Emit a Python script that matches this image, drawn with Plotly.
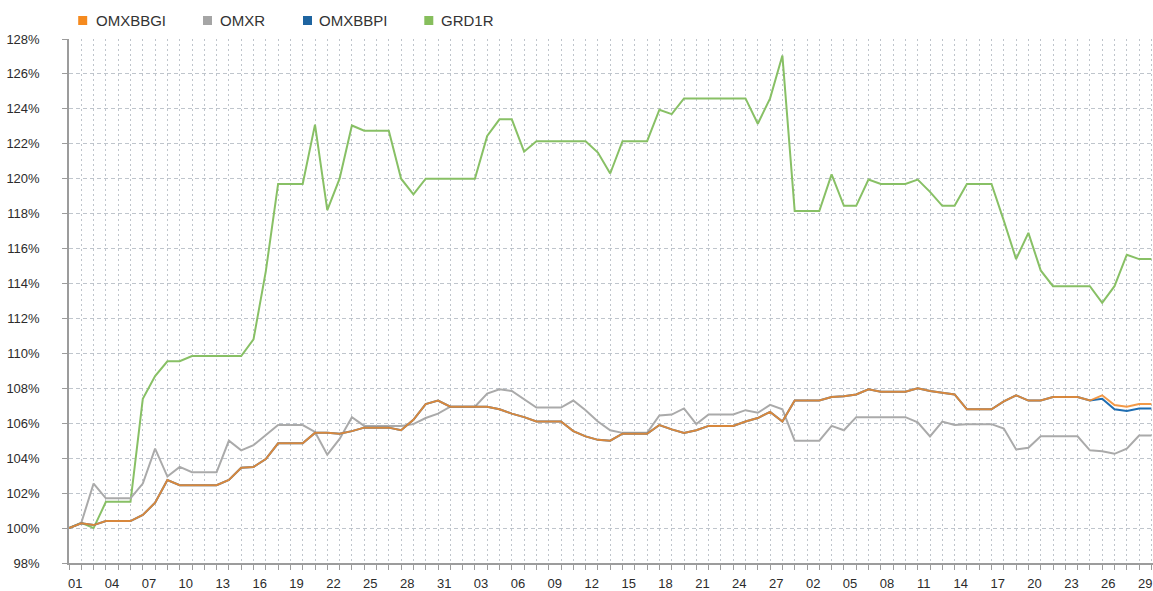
import plotly.graph_objects as go

# ---- categories: calendar days (Jan 1 .. Mar 30) ----
day_labels = ([f"{d:02d}" for d in range(1, 32)] +
              [f"{d:02d}" for d in range(1, 29)] +
              [f"{d:02d}" for d in range(1, 31)])

# ---- series values (% of start) ----
omxbbgi = [100.0, 100.27, 100.17, 100.4, 100.4, 100.4, 100.75, 101.45, 102.75, 102.45,
           102.45, 102.45, 102.45, 102.75, 103.45, 103.5, 103.95, 104.85, 104.85, 104.85,
           105.45, 105.45, 105.4, 105.55, 105.75, 105.75, 105.75, 105.6, 106.2, 107.1,
           107.3, 106.95, 106.95, 106.95, 106.95, 106.8, 106.55, 106.35, 106.1, 106.1,
           106.1, 105.55, 105.25, 105.05, 105.0, 105.4, 105.4, 105.4, 105.9, 105.65,
           105.45, 105.6, 105.85, 105.85, 105.85, 106.1, 106.3, 106.65, 106.1, 107.3,
           107.3, 107.3, 107.5, 107.55, 107.65, 107.95, 107.8, 107.8, 107.8, 108.0,
           107.85, 107.75, 107.65, 106.8, 106.8, 106.8, 107.25, 107.6, 107.3, 107.3,
           107.5, 107.5, 107.5, 107.3, 107.6, 107.05, 106.95, 107.1, 107.1]

omxr = [100.0, 100.3, 102.55, 101.7, 101.7, 101.7, 102.55, 104.55, 102.95, 103.5,
        103.2, 103.2, 103.2, 105.0, 104.45, 104.75, 105.3, 105.9, 105.9, 105.9,
        105.5, 104.2, 105.1, 106.35, 105.85, 105.85, 105.85, 105.85, 105.95, 106.3,
        106.55, 106.95, 106.95, 106.95, 107.7, 107.95, 107.85, 107.35, 106.9, 106.9,
        106.9, 107.3, 106.75, 106.1, 105.6, 105.45, 105.45, 105.45, 106.45, 106.5,
        106.85, 105.95, 106.5, 106.5, 106.5, 106.75, 106.6, 107.05, 106.8, 105.0,
        105.0, 105.0, 105.85, 105.6, 106.35, 106.35, 106.35, 106.35, 106.35, 106.05,
        105.25, 106.1, 105.9, 105.95, 105.95, 105.95, 105.7, 104.5, 104.6, 105.25,
        105.25, 105.25, 105.25, 104.45, 104.4, 104.25, 104.55, 105.3, 105.3]

omxbbpi = omxbbgi[:84] + [107.4, 106.8, 106.7, 106.85, 106.85]

grd1r = [100.0, 100.3, 100.0, 101.5, 101.5, 101.5, 107.4, 108.7, 109.55, 109.55,
         109.85, 109.85, 109.85, 109.85, 109.85, 110.8, 114.7, 119.7, 119.7, 119.7,
         123.1, 118.2, 120.0, 123.05, 122.75, 122.75, 122.75, 120.0, 119.1, 120.0,
         120.0, 120.0, 120.0, 120.0, 122.45, 123.4, 123.4, 121.55, 122.15, 122.15,
         122.15, 122.15, 122.15, 121.5, 120.3, 122.15, 122.15, 122.15, 123.95, 123.7,
         124.6, 124.6, 124.6, 124.6, 124.6, 124.6, 123.15, 124.6, 127.05, 118.15,
         118.15, 118.15, 120.25, 118.45, 118.45, 119.95, 119.7, 119.7, 119.7, 119.95,
         119.25, 118.45, 118.45, 119.7, 119.7, 119.7, 117.6, 115.4, 116.9, 114.75,
         113.85, 113.85, 113.85, 113.85, 112.9, 113.85, 115.65, 115.4, 115.4]

series_names = ["OMXBBGI", "OMXR", "OMXBBPI", "GRD1R"]
line_colors = {"OMXBBGI": "#F28C2E", "OMXR": "#AAAAAA", "OMXBBPI": "#1F6DB1", "GRD1R": "#88C065"}
legend_colors = {"OMXBBGI": "#F58A1F", "OMXR": "#A5A5A5", "OMXBBPI": "#1E64A0", "GRD1R": "#86BE5C"}

x_idx = list(range(len(day_labels)))
label_step = 3
tick_pos = [i + 0.5 for i in range(0, len(day_labels), label_step)]
tick_txt = [day_labels[i] for i in range(0, len(day_labels), label_step)]

fig = go.Figure()
data_map = {"OMXBBGI": omxbbgi, "OMXR": omxr, "OMXBBPI": omxbbpi, "GRD1R": grd1r}
for name in ["GRD1R", "OMXR", "OMXBBPI", "OMXBBGI"]:
    fig.add_trace(go.Scatter(
        x=x_idx, y=data_map[name], mode="lines", name=name,
        line=dict(color=line_colors[name], width=2),
        opacity=0.88 if name == "OMXBBGI" else 1.0,
        showlegend=False))

W, H = 1153, 591
ml, mr, mt, mb = 69, 0, 39, 28
pw, ph = W - ml - mr, H - mt - mb
px_per_cat = 12.3
x_end = pw / px_per_cat


def paper_x(px):
    return (px - ml) / pw


def paper_y(py):
    return (H - mb - py) / ph


# legend drawn as coloured squares + labels
legend_sq_x = [82.7, 207.5, 307.5, 428.8]
legend_tx_x = [94.3, 218.0, 317.0, 438.5]
legend_y = 20.5
shapes = []
annotations = []
for name, sx, tx in zip(series_names, legend_sq_x, legend_tx_x):
    shapes.append(dict(type="rect", xref="paper", yref="paper",
                       x0=paper_x(sx - 4.5), x1=paper_x(sx + 4.5),
                       y0=paper_y(legend_y + 4.5), y1=paper_y(legend_y - 4.5),
                       fillcolor=legend_colors[name], line=dict(width=0)))
    annotations.append(dict(xref="paper", yref="paper", x=paper_x(tx), y=paper_y(legend_y),
                            text=name, showarrow=False, xanchor="left", yanchor="middle",
                            font=dict(size=15, color="#333333", family="Liberation Sans, Arial")))

axis_col = "#9C9C9C"
grid_col = "#BFC5CC"
fig.update_layout(
    width=W, height=H,
    margin=dict(l=ml, r=mr, t=mt, b=mb, autoexpand=False),
    paper_bgcolor="white", plot_bgcolor="white",
    showlegend=False,
    shapes=shapes, annotations=annotations,
    font=dict(family="Liberation Sans, Arial", color="#333333"),
    xaxis=dict(range=[0, x_end], tickmode="array", tickvals=tick_pos, ticktext=tick_txt,
               ticks="", showgrid=False, zeroline=False,
               showline=True, linecolor=axis_col, linewidth=1.5,
               tickfont=dict(size=13, color="#2b2b2b"),
               ticklabelstandoff=8, automargin=False,
               minor=dict(tickmode="array", tickvals=x_idx, ticks="outside", ticklen=5,
                          tickcolor=axis_col, tickwidth=1,
                          showgrid=True, gridcolor=grid_col, griddash="2px,3px", gridwidth=1)),
    yaxis=dict(range=[98, 128], tickmode="linear", tick0=98, dtick=2, ticksuffix="%",
               ticks="outside", ticklen=5, tickcolor=axis_col,
               showline=True, linecolor=axis_col, linewidth=1.5, zeroline=False,
               showgrid=True, gridcolor=grid_col, griddash="4px,3px", gridwidth=1,
               tickfont=dict(size=13, color="#2b2b2b"),
               ticklabelstandoff=20, automargin=False),
)

fig.write_html("out.html", config={"displayModeBar": False},
               post_script="document.body.style.margin='0';document.body.style.overflow='hidden';")
